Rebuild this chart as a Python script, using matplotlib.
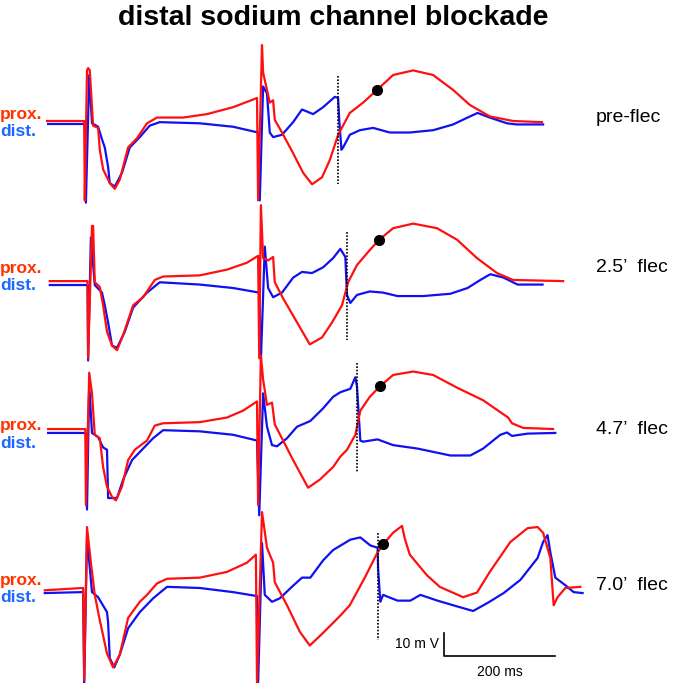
import matplotlib.pyplot as plt

# tiempos en ms, voltajes en mV relativos a la linea base proximal de cada panel
condiciones = ["pre-flec", "2.5\u2019  flec", "4.7\u2019  flec", "7.0\u2019  flec"]

# --- pre-flec ---
prox1_t = [0, 65, 67, 68, 72, 74, 77, 83, 92, 95, 101, 113, 122, 131, 146, 162, 180, 198, 245, 288, 335, 378,
           380, 387, 389, 396, 401, 407, 410, 423, 443, 461, 477, 495, 509, 524, 545, 569, 594, 623, 659, 695,
           731, 761, 797, 839, 891]
prox1_v = [0, 0, 0, -34.5, 22, 23, 22, -2, -3, -12.5, -21, -27, -29.5, -25.5, -11.5, -7.5, -1, 1.5, 1.5, 3, 6, 10,
           -34.5, 33, 21, 13.5, 8, 9, 0.5, -5, -14, -22.5, -27.5, -24.5, -17, -6, 3.5, 8, 13.5, 20, 22, 20,
           13.5, 7, 2, 0, -0.5]
dist1_t = [2, 65, 68, 70, 76, 81, 92, 99, 104, 110, 113, 122, 135, 149, 167, 185, 203, 275, 335, 380, 383, 389,
           396, 401, 407, 423, 443, 459, 479, 497, 518, 524, 526, 530, 533, 545, 563, 587, 617, 653, 695, 731,
           757, 775, 797, 828, 846, 893]
dist1_v = [-1.3, -1.3, -1.3, -35.5, 20, -1, -2.5, -8, -11.5, -20, -27, -28.5, -22.5, -11.5, -7, -2, -0.5, -1,
           -2.5, -5, -34.5, 15, 12, -5, -7, -6, -0.5, 5, 3, 6, 10.5, 10, 0.5, -12.5, -11.5, -6, -4, -3, -5, -5,
           -4, -1.5, 1.5, 3.5, 1.5, -1, -1.5, -1.5]

# --- 2.5' flec ---
prox2_t = [5, 72, 73, 74, 81, 83, 86, 95, 101, 108, 117, 126, 137, 155, 173, 194, 209, 275, 324, 360, 380, 382,
           385, 389, 398, 407, 410, 425, 443, 473, 495, 513, 531, 542, 558, 581, 598, 623, 659, 702, 738, 774,
           810, 839, 929]
prox2_v = [0, 0, 0, -33.5, 24, 24, -0.5, -2.5, -10.5, -22, -28, -30, -23.5, -10.5, -7, 0.5, 2, 2.5, 5, 8, 11,
           -33.5, 33, 10, 9, 10.5, -0.5, -7.5, -15, -27.5, -24.5, -18, -10.5, -0.5, 7, 13.5, 18, 23, 25, 23, 18,
           10, 3.5, 0.5, 0]
dist2_t = [5, 72, 73, 74, 79, 86, 99, 104, 110, 117, 126, 140, 155, 180, 203, 275, 335, 382, 385, 392, 398,
           407, 423, 443, 459, 477, 497, 515, 528, 537, 540, 546, 558, 581, 605, 631, 677, 726, 757, 780, 798,
           822, 847, 892]
dist2_v = [-1.7, -1.7, -1.7, -34.5, 19, -1.7, -5, -10.5, -18, -28, -29, -22, -11.5, -5, -0.5, -1.5, -3, -5,
           -34.5, 15, -3, -7, -5, 1.5, 4, 3.5, 6, 10, 14, 10.5, -6, -9.5, -6, -4.5, -5, -6.5, -6.5, -5.5, -3,
           0.5, 3, 1.5, -1.5, -1.5]

# --- 4.7' flec ---
prox3_t = [2, 68, 69, 70, 76, 81, 86, 95, 101, 108, 117, 124, 135, 146, 158, 180, 194, 209, 275, 324, 353, 378,
           380, 385, 389, 396, 405, 410, 425, 443, 470, 491, 515, 528, 540, 555, 564, 581, 599, 623, 659, 695,
           738, 785, 830, 837, 857, 911]
prox3_v = [0, 0, 0, -33, 24.5, 15.5, -2.5, -4, -16.5, -25, -29.5, -31, -25, -13.5, -9, -5, 1.5, 2.5, 3, 5, 8,
           12, -33, 32, 21.5, 10.5, 11.5, 2, -5, -13.5, -25.5, -22, -16.5, -12, -9, -2.5, 8, 14, 18.5, 23.5, 25,
           23.5, 18, 12.5, 5, 2.5, 0.5, 0]
dist3_t = [2, 68, 70, 72, 76, 81, 92, 101, 108, 110, 119, 126, 137, 153, 167, 191, 209, 275, 335, 378, 382, 389,
           396, 405, 414, 432, 450, 474, 497, 515, 528, 546, 555, 558, 564, 569, 595, 623, 667, 726, 762, 785,
           816, 828, 837, 865, 915]
dist3_v = [-1.7, -1.7, -1.7, -35, 19, -1.7, -3.5, -8, -9, -30, -30, -30, -22, -13.5, -10, -4, -0.5, -1, -2.5,
           -5, -37.5, 15.5, 1, -7, -7.5, -4, 1, 3.5, 9, 14, 16, 17.5, 22.5, 18.5, -5, -5.5, -4.5, -7, -8.5,
           -11.5, -11.5, -8.5, -2.5, -1.5, -3, -2, -1.7]

# --- 7.0' flec ---
prox4_t = [-4, 63, 65, 67, 72, 79, 86, 95, 108, 119, 131, 146, 167, 180, 198, 216, 275, 324, 360, 376, 378,
           387, 396, 401, 407, 410, 432, 455, 473, 497, 528, 545, 572, 594, 605, 623, 639, 644, 653, 684, 707,
           749, 774, 797, 834, 865, 883, 893, 906, 912, 919, 933, 960]
prox4_v = [-0.5, 0.5, 0.5, -39.5, 27, 11.5, -2.5, -13.5, -28, -34, -28.5, -12.5, -5.5, -2.5, 2.5, 4.5, 5, 7.5,
           11.5, 15, -41, 33.5, 18, 15, 11.5, 3, -7, -18.5, -24.5, -19, -11.5, -7, 5, 15.5, 19.5, 24.5, 27.5,
           22, 15, 6, 1, -3.5, -1.5, 7.5, 20.5, 26.5, 27, 24.5, 13.5, -7, -3.5, 0.5, 1]
dist4_t = [-4, 63, 65, 67, 72, 81, 92, 108, 110, 113, 121, 131, 146, 167, 191, 216, 275, 335, 378, 380, 387,
           392, 405, 419, 443, 459, 474, 497, 515, 546, 564, 582, 595, 596, 600, 605, 631, 654, 672, 703, 731,
           767, 793, 822, 852, 883, 893, 901, 906, 915, 933, 948, 964]
dist4_v = [-1.7, -1.3, -1.3, -41, 22.5, -1.3, -3.5, -10, -14.5, -30, -34, -28.5, -17, -10, -4, 1, 0.5, -1.3,
           -3, -41, 20, -2.5, -5.5, -4, 1.5, 5, 5, 12.5, 17, 21.5, 22.5, 19, 18, 9, -5.5, -2.5, -5, -5, -2.5,
           -5, -7, -9.5, -6, -1.7, 4, 13.5, 20.5, 23.5, 16, 5, 1.7, -1.3, -1.7]

prox = [(prox1_t, prox1_v), (prox2_t, prox2_v), (prox3_t, prox3_v), (prox4_t, prox4_v)]
dist = [(dist1_t, dist1_v), (dist2_t, dist2_v), (dist3_t, dist3_v), (dist4_t, dist4_v)]

# linea punteada (tiempo, v arriba, v abajo) y punto negro (tiempo, v) por panel
marca_t = [524, 540, 558, 596]
marca_arriba = [19.5, 21.5, 28.5, 24.5]
marca_abajo = [-27.5, -25.5, -18.5, -22]
punto_t = [594, 598, 599, 605]
punto_v = [13.5, 18, 18.5, 19.5]

# desplazamiento vertical de cada panel (mV)
desplazamientos = [0, -69.6, -133.9, -203.5]

fig = plt.figure(figsize=(6.79, 6.83), dpi=100)
ax = fig.add_axes([0, 0, 1, 1])
ax.set_xlim(-84.6, 1137.6)
ax.set_ylim(-244.3, 52.6)
ax.axis('off')

for i in range(4):
    d = desplazamientos[i]
    t, v = prox[i]
    ax.plot(t, [x + d for x in v], color='#ff1010', lw=1.6, zorder=3, solid_joinstyle='round')
    t, v = dist[i]
    ax.plot(t, [x + d for x in v], color='#1010f0', lw=1.6, zorder=2, solid_joinstyle='round')
    ax.plot([marca_t[i], marca_t[i]], [marca_arriba[i] + d, marca_abajo[i] + d],
            color='black', lw=1.2, ls=(0, (1, 1)), zorder=4)
    ax.plot(punto_t[i], punto_v[i] + d, 'o', color='black', ms=7, zorder=5)

# barra de escala
d = desplazamientos[3]
ax.plot([715, 715, 915], [-19 + d, -29 + d, -29 + d], color='black', lw=1.2)
ax.text(705, -24 + d, '10 m V', ha='right', va='center', fontsize=10, family='Liberation Sans')
ax.text(815, -33 + d, '200 ms', ha='center', va='top', fontsize=10, family='Liberation Sans')

# etiquetas
prox_y = [114, 268, 425, 580]
dist_y = [132, 286, 443, 598]
cond_y = [118, 267, 430, 585]
for i in range(4):
    fig.text(0.0, 1 - prox_y[i] / 683, 'prox.', color='#ff3300', fontsize=12.5, fontweight='bold',
             family='Liberation Sans', va='center', ha='left')
    fig.text(0.0, 1 - dist_y[i] / 683, 'dist.', color='#1a66ff', fontsize=12.5, fontweight='bold',
             family='Liberation Sans', va='center', ha='left')
    fig.text(596 / 679, 1 - cond_y[i] / 683, condiciones[i], fontsize=14, family='Liberation Sans',
             va='center', ha='left')

fig.text(333 / 679, 1 - 18 / 683, 'distal sodium channel blockade', fontsize=20.5, fontweight='bold',
         family='Liberation Sans', ha='center', va='center')

fig.savefig('out.png', dpi=100)
